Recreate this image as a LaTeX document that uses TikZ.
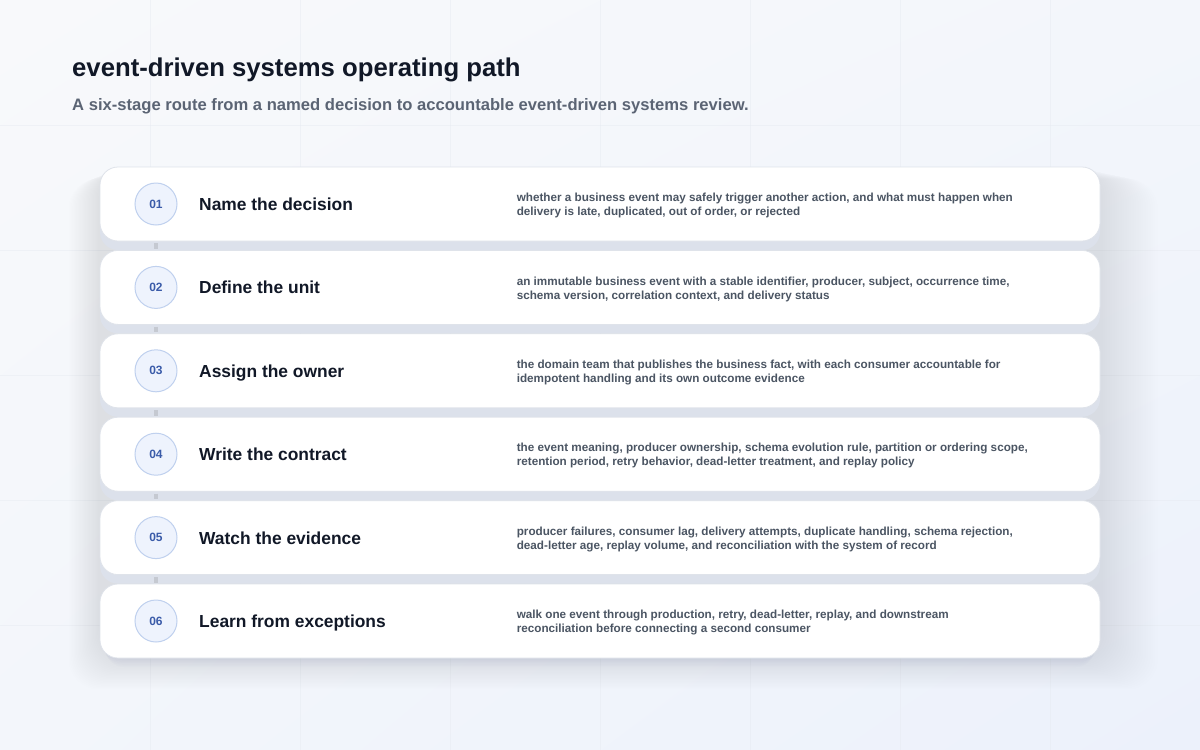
\documentclass[tikz,border=0pt]{standalone}
\usepackage{fontspec}
\setmainfont{Liberation Sans}
\usetikzlibrary{calc,shadings}
\definecolor{bgA}{HTML}{F8F9FB}
\definecolor{bgM}{HTML}{F3F6FB}
\definecolor{bgB}{HTML}{ECF1FB}
\definecolor{gridc}{HTML}{E6EAF1}
\definecolor{cardline}{HTML}{DFE3EA}
\definecolor{gapc}{HTML}{DCE1EB}
\definecolor{shadowc}{HTML}{B8C0D6}
\definecolor{circfill}{HTML}{EEF3FD}
\definecolor{circline}{HTML}{BFD0EE}
\definecolor{numc}{HTML}{3A5BA9}
\definecolor{titlec}{HTML}{111827}
\definecolor{subc}{HTML}{5B6474}
\definecolor{descc}{HTML}{4B5563}
\definecolor{connc}{HTML}{C5C9D1}
\tikzset{
  card/.style={draw=cardline, line width=0.8pt, fill=white, rounded corners=18pt,
    minimum width=1000pt, minimum height=74pt, inner sep=0pt},
  stepnum/.style={circle, draw=circline, line width=1pt, fill=circfill, minimum size=42pt,
    inner sep=0pt, text=numc, font=\fontsize{12}{14}\selectfont\bfseries},
  steptitle/.style={anchor=base west, inner sep=0pt, text=titlec,
    font=\fontsize{17.4}{21}\selectfont\bfseries},
  stepdesc/.style={anchor=north west, inner sep=0pt, align=left, text=descc,
    font=\fontsize{11.7}{14}\selectfont\bfseries},
  conn/.style={draw=connc, line width=4pt, shorten <=2pt, shorten >=1pt},
}
\begin{document}
\begin{tikzpicture}[x=1pt,y=-1pt]
\useasboundingbox (0,0) rectangle (1200,750);
% background
\shade[upper left=bgA, upper right=bgM, lower left=bgM, lower right=bgB] (0,0) rectangle (1200,750);
\foreach \gx in {150,300,...,1050} \draw[gridc, line width=0.8pt, opacity=0.45] (\gx,0) -- (\gx,750);
\foreach \gy in {125,250,...,625} \draw[gridc, line width=0.8pt, opacity=0.45] (0,\gy) -- (1200,\gy);
% headline
\node[anchor=base west, inner sep=0pt, text=titlec, font=\fontsize{25.7}{30}\selectfont\bfseries] (head) at (72,76) {event-driven systems operating path};
\node[anchor=base west, inner sep=0pt, text=subc, font=\fontsize{16.6}{20}\selectfont\bfseries] (sub) at (72,110) {A six-stage route from a named decision to accountable event-driven systems review.};
% soft glow around the stack
\foreach \k in {1,...,24}
  \fill[shadowc, opacity=0.011, rounded corners=30pt] (100-1.3*\k,167+0.5*\k) rectangle (1100+2.4*\k,658+1.3*\k);
% per-card shadows
\foreach \i in {0,...,4}
  \fill[gapc, rounded corners=18pt] (100,167+83.4*\i+6) rectangle (1100,241+83.4*\i+9);
\foreach \k in {1,...,6}
  \fill[shadowc, opacity=0.05, rounded corners=18pt] (100+\k,584+6) rectangle (1100-\k,658+1.5*\k);
% cards
\foreach \i/\n/\t in {1/01/Name the decision,2/02/Define the unit,3/03/Assign the owner,4/04/Write the contract,5/05/Watch the evidence,6/06/Learn from exceptions}{
  \pgfmathsetmacro{\cy}{204+83.4*(\i-1)}
  \node[card] (c\i) at (600,\cy) {};
  \node[stepnum] (n\i) at (156,\cy) {\n};
  \node[steptitle] (t\i) at (199,\cy+6.5) {\t};
}
\node[stepdesc] (d1) at ($(c1.west)+(417,-11)$) {whether a business event may safely trigger another action, and what must happen when\\delivery is late, duplicated, out of order, or rejected};
\node[stepdesc] (d2) at ($(c2.west)+(417,-11)$) {an immutable business event with a stable identifier, producer, subject, occurrence time,\\schema version, correlation context, and delivery status};
\node[stepdesc] (d3) at ($(c3.west)+(417,-11)$) {the domain team that publishes the business fact, with each consumer accountable for\\idempotent handling and its own outcome evidence};
\node[stepdesc] (d4) at ($(c4.west)+(417,-11)$) {the event meaning, producer ownership, schema evolution rule, partition or ordering scope,\\retention period, retry behavior, dead-letter treatment, and replay policy};
\node[stepdesc] (d5) at ($(c5.west)+(417,-11)$) {producer failures, consumer lag, delivery attempts, duplicate handling, schema rejection,\\dead-letter age, replay volume, and reconciliation with the system of record};
\node[stepdesc] (d6) at ($(c6.west)+(417,-11)$) {walk one event through production, retry, dead-letter, replay, and downstream\\reconciliation before connecting a second consumer};
% connectors between stages
\foreach \a/\b in {1/2,2/3,3/4,4/5,5/6}
  \draw[conn] (n\a |- c\a.south) -- (n\b |- c\b.north);
\end{tikzpicture}
\end{document}
